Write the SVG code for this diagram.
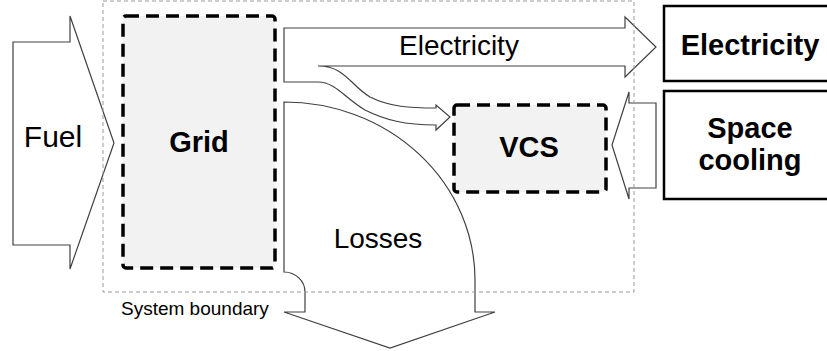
<svg xmlns="http://www.w3.org/2000/svg" width="827" height="351" viewBox="0 0 827 351">
<style>
.flow{fill:#fff;stroke:#404040;stroke-width:1.2;stroke-linejoin:miter}
.proc{fill:#f2f2f2;stroke:#000;stroke-width:3.5;stroke-dasharray:13 7}
.box{fill:#fff;stroke:#000;stroke-width:2.5}
.bnd{fill:none;stroke:#999;stroke-width:1;stroke-dasharray:4 3}
text{font-family:"Liberation Sans",Arial,sans-serif;fill:#000}
.lbl{font-size:28px;text-anchor:middle}
.bold{font-size:29px;font-weight:bold;text-anchor:middle}
.small{font-size:19px}
</style>
<g id="connectors">
<path id="fuel" class="flow" d="M13,42 L70,42 L70,16 L114,143 L70,269 L70,245 L13,245 Z"/>
<path id="electricity-flow" class="flow" d="M284,28 L625,28 L625,17 L656,47 L625,77 L625,66 L318,66 C345,66 350,85 370,97 C390,107 410,108 436,108 L436,105 L450,117 L436,130 L436,125 C405,125 385,120 365,110 C345,98 335,82 318,82 L284,82 Z"/>
<path id="losses" class="flow" d="M284,102 A191,178 0 0 1 475,280 L475,312 L495,312 L390,348 L284,312 L305,312 L305,292 A21,20 0 0 0 284,272 Z"/>
<path id="cooling-flow" class="flow" d="M656,103 L629,103 L629,92 L612,145 L629,199 L629,188 L656,188 Z"/>
</g>
<rect id="system-boundary" class="bnd" x="103" y="1" width="531" height="291"/>
<g id="grid">
<rect class="proc" x="123" y="16" width="152" height="252" rx="3"/>
<text class="bold" x="199" y="152">Grid</text>
</g>
<g id="vcs">
<rect class="proc" x="454" y="105" width="152" height="87" rx="3"/>
<text class="bold" x="529" y="157">VCS</text>
</g>
<g id="electricity">
<rect class="box" x="664" y="6" width="166" height="75"/>
<text class="bold" x="750" y="55">Electricity</text>
</g>
<g id="space-cooling">
<rect class="box" x="664" y="91" width="166" height="108"/>
<text class="bold" x="750" y="138">Space</text>
<text class="bold" x="750" y="170">cooling</text>
</g>
<text class="lbl" x="53" y="147" style="font-size:30px">Fuel</text>
<text class="lbl" x="459" y="55">Electricity</text>
<text class="lbl" x="378" y="248">Losses</text>
<text class="small" x="121" y="315">System boundary</text>
</svg>
